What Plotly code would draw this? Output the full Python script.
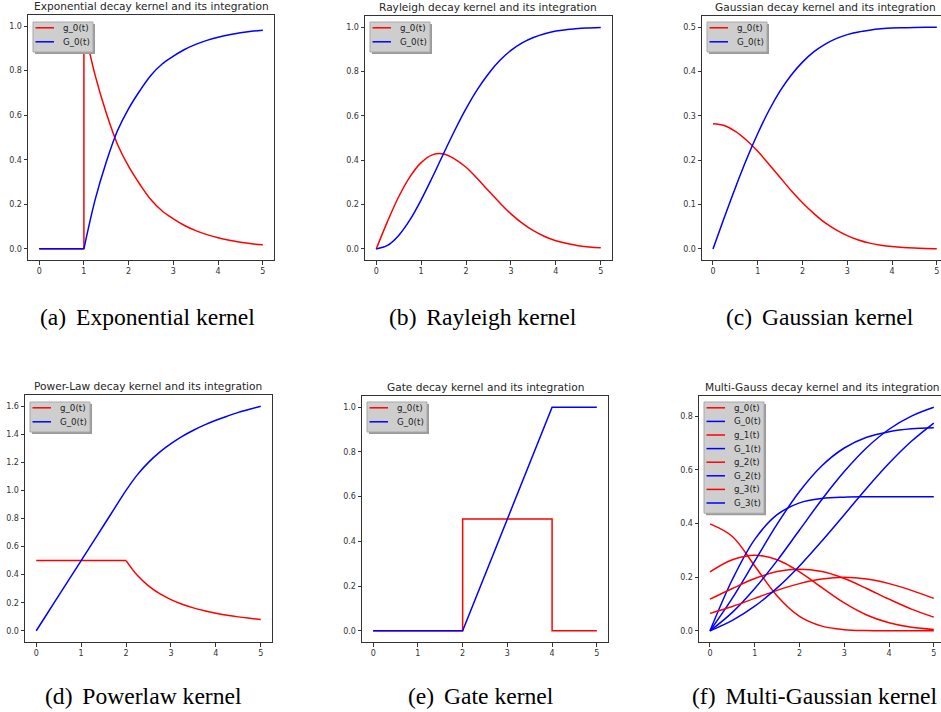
import plotly.graph_objects as go

W, H = 941, 712

# ---------------- data ----------------
T_Q = [0.0, 0.25, 0.5, 0.75, 1.0, 1.25, 1.5, 1.75, 2.0, 2.25, 2.5, 2.75, 3.0,
       3.25, 3.5, 3.75, 4.0, 4.25, 4.5, 4.75, 5.0]
T_H = [0.0, 0.5, 1.0, 1.5, 2.0, 2.5, 3.0, 3.5, 4.0, 4.5, 5.0]

# (a) exponential
EXP_T_OFF = [0.0, 1.0, 1.0]
EXP_g_OFF = [0.0, 0.0, 1.0]
EXP_G_OFF = [0.0, 0.0, 0.0]
EXP_T_ON = [1.0, 1.25, 1.5, 1.75, 2.0, 2.25, 2.5, 2.75, 3.0, 3.25, 3.5, 3.75,
            4.0, 4.25, 4.5, 4.75, 5.0]
EXP_g_ON = [1.0, 0.78, 0.61, 0.47, 0.37, 0.29, 0.22, 0.17, 0.135, 0.105, 0.082,
            0.064, 0.05, 0.039, 0.030, 0.023, 0.018]
EXP_G_ON = [0.0, 0.22, 0.39, 0.53, 0.63, 0.71, 0.78, 0.83, 0.865, 0.895, 0.918,
            0.936, 0.95, 0.961, 0.970, 0.977, 0.982]

# (b) Rayleigh
RAY_g = [0.0, 0.123, 0.235, 0.325, 0.389, 0.424, 0.428, 0.405, 0.368, 0.317,
         0.262, 0.208, 0.158, 0.116, 0.082, 0.056, 0.037, 0.024, 0.014, 0.009, 0.005]
RAY_G = [0.0, 0.0155, 0.061, 0.131, 0.221, 0.323, 0.430, 0.535, 0.632, 0.718,
         0.790, 0.849, 0.895, 0.929, 0.953, 0.970, 0.982, 0.989, 0.994, 0.996, 0.998]

# (c) Gaussian
GAU_g = [0.282, 0.278, 0.265, 0.245, 0.220, 0.191, 0.161, 0.131, 0.104, 0.080,
         0.059, 0.043, 0.030, 0.020, 0.013, 0.0084, 0.0052, 0.0031, 0.0018, 0.001, 0.0005]
GAU_G = [0.0, 0.070, 0.138, 0.202, 0.260, 0.312, 0.356, 0.392, 0.421, 0.444,
         0.461, 0.474, 0.483, 0.489, 0.493, 0.496, 0.498, 0.4986, 0.4992, 0.4996, 0.4998]

# (d) power law
PL_T_FLAT = [0.0, 2.0]
PL_g_FLAT = [0.5, 0.5]
PL_T_TAIL = [2.0, 2.25, 2.5, 2.75, 3.0, 3.25, 3.5, 3.75, 4.0, 4.25, 4.5, 4.75, 5.0]
PL_g_TAIL = [0.5, 0.395, 0.32, 0.264, 0.222, 0.189, 0.163, 0.142, 0.125, 0.111,
             0.099, 0.089, 0.08]
PL_G = [0.0, 0.125, 0.25, 0.375, 0.5, 0.625, 0.75, 0.875, 1.0, 1.111, 1.2, 1.273,
        1.333, 1.385, 1.429, 1.467, 1.5, 1.529, 1.556, 1.579, 1.6]

# (e) gate
GATE_T_g = [0.0, 2.0, 2.0, 4.0, 4.0, 5.0]
GATE_g = [0.0, 0.0, 0.5, 0.5, 0.0, 0.0]
GATE_T_G = [0.0, 2.0, 4.0, 5.0]
GATE_G = [0.0, 0.0, 1.0, 1.0]

# (f) multi-Gauss
MG_g0 = [0.399, 0.352, 0.242, 0.130, 0.054, 0.0175, 0.0044, 0.0009, 0.0001, 0.0, 0.0]
MG_G0 = [0.0, 0.1915, 0.3413, 0.4332, 0.4772, 0.4938, 0.4987, 0.4998, 0.5, 0.5, 0.5]
MG_g1 = [0.220, 0.265, 0.282, 0.265, 0.220, 0.161, 0.104, 0.059, 0.030, 0.013, 0.005]
MG_G1 = [0.0, 0.122, 0.260, 0.398, 0.520, 0.616, 0.682, 0.722, 0.743, 0.754, 0.758]
MG_g2 = [0.118, 0.158, 0.195, 0.221, 0.230, 0.221, 0.195, 0.158, 0.118, 0.081, 0.051]
MG_G2 = [0.0, 0.069, 0.158, 0.262, 0.376, 0.490, 0.594, 0.683, 0.752, 0.801, 0.834]
MG_g3 = [0.065, 0.091, 0.121, 0.151, 0.176, 0.193, 0.1995, 0.193, 0.176, 0.151, 0.121]
MG_G3 = [0.0, 0.039, 0.092, 0.160, 0.242, 0.335, 0.433, 0.532, 0.625, 0.707, 0.775]

TITLES = ["Exponential decay kernel and its integration",
          "Rayleigh decay kernel and its integration",
          "Gaussian decay kernel and its integration",
          "Power-Law decay kernel and its integration",
          "Gate decay kernel and its integration",
          "Multi-Gauss decay kernel and its integration"]
CAPTIONS = ["(a)\u2006 Exponential kernel", "(b)\u2006 Rayleigh kernel",
            "(c)\u2006 Gaussian kernel", "(d)\u2006 Powerlaw kernel",
            "(e)\u2006 Gate kernel", "(f)\u2006 Multi-Gaussian kernel"]
X_TICKS = [0, 1, 2, 3, 4, 5]
Y_TICKS = [[0, 0.2, 0.4, 0.6, 0.8, 1.0],
           [0, 0.2, 0.4, 0.6, 0.8, 1.0],
           [0, 0.1, 0.2, 0.3, 0.4, 0.5],
           [0, 0.2, 0.4, 0.6, 0.8, 1.0, 1.2, 1.4, 1.6],
           [0, 0.2, 0.4, 0.6, 0.8, 1.0],
           [0, 0.2, 0.4, 0.6, 0.8]]
LEGENDS = [["g_0(t)", "G_0(t)"]] * 5 + [["g_0(t)", "G_0(t)", "g_1(t)", "G_1(t)",
                                          "g_2(t)", "G_2(t)", "g_3(t)", "G_3(t)"]]

# ---------------- layout geometry (pixels) ----------------
BOXES = [(28, 274, 15, 260), (365, 612, 16, 260), (702, 941, 16, 260),
         (25, 272, 395, 642), (362, 608, 396, 642), (699, 941, 396, 642)]
XRANGES = [[-0.25, 5.25], [-0.25, 5.25], [-0.2455, 5.094],
           [-0.25, 5.25], [-0.25, 5.25], [-0.2455, 5.161]]
YRANGES = [[-0.05, 1.05], [-0.05, 1.05], [-0.025, 0.525],
           [-0.08, 1.68], [-0.05, 1.05], [-0.0417, 0.876]]
TITLE_CX = [151, 488, 825, 148, 485, 822]
CAP_CX = [147, 483, 820, 143, 481, 814]
CAP_CY = [317, 317, 317, 696, 696, 696]
LEG_POS = [(33, 22), (370, 22), (707, 22), (30, 402), (367, 402), (704, 402)]

RED = "#ff0000"
BLUE = "#0000ff"
LW = 1.5
AX_COL = "#333333"


def fx(p):
    return p / W


def fy(p):
    return 1 - p / H


fig = go.Figure()


def add(i, x, y, color, shape="linear"):
    sfx = "" if i == 0 else str(i + 1)
    fig.add_trace(go.Scatter(x=x, y=y, mode="lines", showlegend=False,
                             line=dict(color=color, width=LW, shape=shape),
                             xaxis="x" + sfx, yaxis="y" + sfx, hoverinfo="skip"))


# (a)
add(0, EXP_T_OFF, EXP_g_OFF, RED)
add(0, EXP_T_ON, EXP_g_ON, RED, "spline")
add(0, EXP_T_OFF[:2], EXP_G_OFF[:2], BLUE)
add(0, EXP_T_ON, EXP_G_ON, BLUE, "spline")
# (b)
add(1, T_Q, RAY_g, RED, "spline")
add(1, T_Q, RAY_G, BLUE, "spline")
# (c)
add(2, T_Q, GAU_g, RED, "spline")
add(2, T_Q, GAU_G, BLUE, "spline")
# (d)
add(3, PL_T_FLAT, PL_g_FLAT, RED)
add(3, PL_T_TAIL, PL_g_TAIL, RED, "spline")
add(3, T_Q, PL_G, BLUE, "spline")
# (e)
add(4, GATE_T_g, GATE_g, RED)
add(4, GATE_T_G, GATE_G, BLUE)
# (f)
for gs, Gs in [(MG_g0, MG_G0), (MG_g1, MG_G1), (MG_g2, MG_G2), (MG_g3, MG_G3)]:
    add(5, T_H, gs, RED, "spline")
    add(5, T_H, Gs, BLUE, "spline")

layout = dict(width=W, height=H, margin=dict(l=0, r=0, t=0, b=0),
              paper_bgcolor="white", plot_bgcolor="white", showlegend=False)

tick_font = dict(family="DejaVu Sans", size=8, color=AX_COL)
shapes = []
annotations = []
for i in range(6):
    sfx = "" if i == 0 else str(i + 1)
    l, r, t, b = BOXES[i]
    layout["xaxis" + sfx] = dict(
        domain=[fx(l), fx(r)], range=XRANGES[i], anchor="y" + sfx,
        showline=True, mirror=True, linecolor=AX_COL, linewidth=1,
        ticks="outside", ticklen=3.5, tickwidth=1, tickcolor=AX_COL,
        tickvals=X_TICKS, tickfont=tick_font, showgrid=False, zeroline=False)
    layout["yaxis" + sfx] = dict(
        domain=[fy(b), fy(t)], range=YRANGES[i], anchor="x" + sfx,
        showline=True, mirror=True, linecolor=AX_COL, linewidth=1,
        ticks="outside", ticklen=3.5, tickwidth=1, tickcolor=AX_COL,
        tickvals=Y_TICKS[i], tickformat=".1f", tickfont=tick_font,
        showgrid=False, zeroline=False)
    # title
    annotations.append(dict(text=TITLES[i], x=fx(TITLE_CX[i]), y=fy(t),
                            xref="paper", yref="paper", xanchor="center",
                            yanchor="bottom", yshift=1, showarrow=False,
                            font=dict(family="DejaVu Sans", size=10.6, color="#262626")))
    # caption
    annotations.append(dict(text=CAPTIONS[i], x=fx(CAP_CX[i]), y=fy(CAP_CY[i]),
                            xref="paper", yref="paper", xanchor="center",
                            yanchor="middle", showarrow=False,
                            font=dict(family="Liberation Serif", size=23.6, color="black")))
    # legend (matplotlib-like, gray with shadow)
    labels = LEGENDS[i]
    n = len(labels)
    lx, ly = LEG_POS[i]
    lw = 60
    row = 13.6 if n > 2 else 14.0
    lh = 6 + (n - 1) * row + 10
    shapes.append(dict(type="rect", xref="paper", yref="paper",
                       x0=fx(lx + 2), x1=fx(lx + lw + 2), y0=fy(ly + lh + 2), y1=fy(ly + 2),
                       line=dict(width=0), fillcolor="#9a9a9a", layer="above"))
    shapes.append(dict(type="rect", xref="paper", yref="paper",
                       x0=fx(lx), x1=fx(lx + lw), y0=fy(ly + lh), y1=fy(ly),
                       line=dict(width=1, color="#a8a8a8"), fillcolor="#cecece",
                       layer="above"))
    for k, lab in enumerate(labels):
        cy = ly + 5.8 + k * row
        col = RED if lab.startswith("g") else BLUE
        shapes.append(dict(type="line", xref="paper", yref="paper",
                           x0=fx(lx + 2.5), x1=fx(lx + 21), y0=fy(cy), y1=fy(cy),
                           line=dict(color=col, width=LW), layer="above"))
        annotations.append(dict(text=lab, x=fx(lx + 27.5), y=fy(cy), xref="paper",
                                yref="paper", xanchor="left", yanchor="middle",
                                showarrow=False,
                                font=dict(family="DejaVu Sans", size=8.7, color="#222222")))

layout["shapes"] = shapes
layout["annotations"] = annotations
fig.update_layout(**layout)
fig.write_html("out.html",
               config={"displayModeBar": False, "staticPlot": True},
               post_script="document.body.style.margin='0';"
                           "document.body.style.padding='0';"
                           "document.body.style.overflow='hidden';")
